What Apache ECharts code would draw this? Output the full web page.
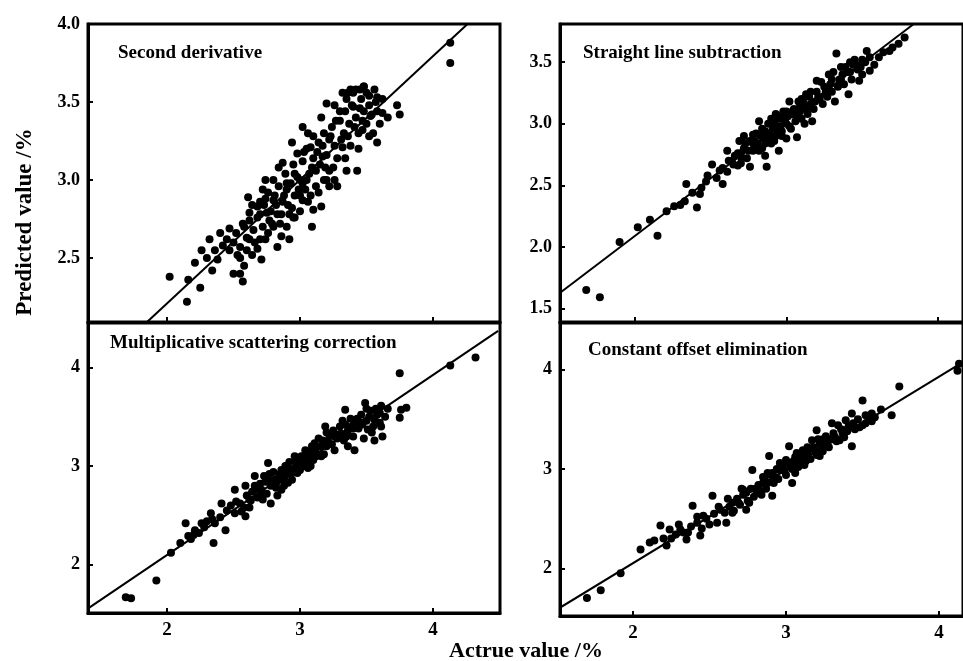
<!DOCTYPE html>
<html>
<head>
<meta charset="utf-8">
<script src="https://cdn.jsdelivr.net/npm/echarts@6/dist/echarts.min.js"></script>
<style>
  html, body { margin: 0; padding: 0; background: #fff; }
  #chart { width: 963px; height: 661px; }
</style>
</head>
<body>
<div id="chart"></div>
<script>
// panel titles
const panelNames = ['Second derivative', 'Straight line subtraction', 'Multiplicative scattering correction', 'Constant offset elimination'];

// tick labels
const ticksTL = [2.5, 3.0, 3.5, 4.0];
const ticksTR = [1.5, 2.0, 2.5, 3.0, 3.5];
const ticksBottom = [2, 3, 4];
const ticksX = [2, 3, 4];

// scatter: [actual, predicted]
const secondDeriv = [
  [2.02,2.38],[2.15,2.22],[2.16,2.36],[2.21,2.47],[2.26,2.55],[2.25,2.31],[2.32,2.62],[2.34,2.42],
  [2.38,2.49],[2.40,2.66],[2.47,2.69],[2.47,2.55],[2.50,2.40],[2.55,2.40],[2.57,2.35],[2.55,2.57],
  [2.60,2.63],[2.57,2.72],[2.61,2.89],[2.62,2.79],[2.71,2.49],[2.68,2.83],[2.72,2.94],[2.75,2.79],
  [2.80,3.00],[2.80,2.87],[2.83,2.57],[2.85,2.72],[2.87,3.11],[2.90,2.94],[2.92,2.62],[2.95,2.76],
  [2.98,3.17],[3.00,3.00],[3.02,3.34],[3.02,2.87],[3.09,2.70],[3.08,3.21],[3.10,3.28],[3.12,3.06],
  [3.10,2.81],[3.16,2.83],[3.17,3.15],[3.20,3.49],[3.22,2.96],[3.22,3.26],[3.25,3.08],[3.30,3.38],
  [3.32,3.21],[3.32,3.56],[3.35,3.06],[3.40,3.47],[3.43,3.06],[3.45,3.58],[3.47,3.32],[3.53,3.41],
  [3.58,3.24],[3.58,3.53],[3.62,3.43],[3.73,3.48],[3.75,3.42],[4.13,3.88],[4.13,3.75],
  [2.45,2.62],[2.52,2.66],[2.58,2.70],[2.62,2.74],[2.65,2.68],[2.68,2.76],[2.70,2.86],[2.72,2.70],
  [2.74,2.88],[2.76,2.92],[2.78,2.80],[2.79,2.72],[2.82,2.84],[2.84,2.96],[2.86,2.78],[2.88,2.90],
  [2.89,3.04],[2.91,2.84],[2.93,2.98],[2.95,3.10],[2.96,2.90],[2.98,3.02],[3.00,2.80],[3.02,3.12],
  [3.04,2.94],[3.05,3.20],[3.07,3.04],[3.10,3.14],[3.12,2.96],[3.14,3.24],[3.15,3.10],[3.18,3.30],
  [3.20,3.16],[3.22,3.06],[3.24,3.34],[3.26,3.22],[3.28,3.14],[3.30,3.44],[3.33,3.30],[3.35,3.52],
  [3.37,3.36],[3.38,3.22],[3.40,3.56],[3.42,3.40],[3.44,3.30],[3.46,3.52],[3.48,3.44],[3.50,3.36],
  [3.50,3.56],[3.52,3.48],[3.55,3.30],[3.56,3.58],[3.58,3.44],[3.60,3.36],[3.62,3.52],[3.66,3.40],
  [2.55,2.50],[2.60,2.55],[2.64,2.52],[2.58,2.45],[2.66,2.60],[2.70,2.62],[2.76,2.66],[2.80,2.70],
  [2.86,2.64],[2.90,2.70],[2.94,2.82],[3.00,2.90],[3.06,2.86],[3.14,2.92],[3.18,3.00],[3.26,3.00],
  [2.42,2.58],[2.36,2.55],[2.30,2.50],[2.64,2.84],[2.74,3.00],[2.84,3.08],[2.94,3.24],[3.06,3.30],
  [3.16,3.40],[3.26,3.48],[3.38,3.58],[3.48,3.60],[3.28,2.96],[3.34,3.14],[3.44,3.20],[3.52,3.28],
  [2.70,2.78],[2.73,2.84],[2.77,2.74],[2.81,2.90],[2.83,2.78],[2.87,2.86],[2.90,2.98],[2.92,2.78],
  [2.96,3.04],[2.99,2.94],[3.03,3.18],[3.05,3.00],[3.09,3.08],[3.13,3.18],[3.17,3.22],[3.19,3.08],
  [3.23,3.28],[3.27,3.38],[3.31,3.26],[3.34,3.44],[3.36,3.28],[3.39,3.48],[3.41,3.34],[3.45,3.46],
  [3.47,3.38],[3.52,3.54],[3.54,3.42],[3.57,3.50],[3.42,3.58],[3.36,3.56],[3.48,3.60],[2.50,2.60],
  [2.53,2.52],[2.62,2.62],[2.68,2.56],[2.74,2.62],[2.96,2.76],[3.02,2.98],[3.20,3.00],[3.08,2.90]
];

const straightLine = [
  [1.68,1.65],[1.77,1.59],[1.90,2.04],[2.02,2.16],[2.10,2.22],[2.15,2.09],[2.21,2.29],[2.26,2.33],
  [2.33,2.37],[2.34,2.51],[2.41,2.32],[2.43,2.43],[2.47,2.53],[2.51,2.67],[2.54,2.56],[2.58,2.51],
  [2.61,2.61],[2.61,2.78],[2.65,2.67],[2.69,2.86],[2.70,2.73],[2.76,2.65],[2.78,2.91],[2.82,3.02],
  [2.82,2.78],[2.87,2.65],[2.89,2.91],[2.93,3.08],[2.95,2.78],[3.00,3.00],[3.02,3.18],[3.07,2.89],
  [3.09,3.10],[3.13,3.24],[3.17,3.02],[3.20,3.35],[3.24,3.16],[3.30,3.26],[3.33,3.57],[3.37,3.40],
  [3.41,3.24],[3.44,3.48],[3.48,3.35],[3.53,3.59],[3.55,3.43],[3.61,3.54],[3.68,3.59],[3.74,3.65],
  [2.64,2.70],[2.68,2.76],[2.72,2.80],[2.74,2.72],[2.76,2.86],[2.78,2.78],[2.80,2.92],[2.81,2.84],
  [2.84,2.96],[2.85,2.88],[2.86,2.74],[2.88,3.00],[2.90,2.84],[2.91,2.96],[2.93,2.90],[2.95,3.04],
  [2.97,2.94],[2.98,3.10],[3.00,2.88],[3.01,3.06],[3.03,2.96],[3.05,3.12],[3.06,3.02],[3.08,3.18],
  [3.10,3.04],[3.12,3.14],[3.14,3.08],[3.15,3.22],[3.18,3.12],[3.20,3.26],[3.22,3.20],[3.25,3.30],
  [3.27,3.22],[3.30,3.36],[3.32,3.18],[3.34,3.30],[3.36,3.46],[3.38,3.32],[3.40,3.42],[3.43,3.36],
  [3.45,3.52],[3.47,3.44],[3.50,3.40],[3.52,3.50],[3.58,3.48],[3.64,3.58],[3.70,3.62],[3.78,3.70],
  [2.56,2.62],[2.62,2.70],[2.66,2.74],[2.70,2.68],[2.72,2.90],[2.78,2.84],[2.84,2.80],[2.86,2.94],
  [2.90,3.04],[2.92,2.86],[2.96,2.98],[3.00,3.10],[3.04,3.08],[3.10,3.20],[3.16,3.16],[3.26,3.24],
  [3.28,3.40],[3.36,3.36],[3.42,3.50],[3.50,3.52],[2.30,2.34],[2.38,2.44],[2.44,2.48],[2.48,2.58],
  [2.70,2.76],[2.73,2.84],[2.75,2.78],[2.79,2.86],[2.83,2.90],[2.87,2.92],[2.89,2.86],[2.92,3.00],
  [2.94,2.94],[2.96,3.06],[2.99,3.02],[3.02,2.98],[3.04,3.10],[3.07,3.06],[3.09,3.14],[3.11,3.18],
  [3.13,3.12],[3.16,3.26],[3.19,3.18],[3.21,3.22],[3.23,3.34],[3.26,3.26],[3.29,3.32],[3.31,3.42],
  [3.35,3.36],[3.39,3.46],[3.42,3.42],[3.46,3.48],[3.49,3.46],[3.55,3.54],[2.80,2.80],[2.86,2.84],
  [2.97,2.90],[3.12,3.00],[2.68,2.66],[2.58,2.64]
];

const msc = [
  [1.69,1.67],[1.73,1.66],[1.92,1.84],[2.03,2.12],[2.10,2.22],[2.16,2.29],[2.14,2.42],[2.21,2.35],
  [2.26,2.42],[2.35,2.22],[2.33,2.52],[2.36,2.42],[2.44,2.35],[2.41,2.62],[2.51,2.52],[2.51,2.76],
  [2.59,2.49],[2.59,2.80],[2.63,2.65],[2.66,2.90],[2.71,2.76],[2.76,3.03],[2.78,2.62],[2.81,2.86],
  [2.86,2.76],[2.89,3.00],[2.91,2.83],[2.96,3.10],[2.98,2.93],[3.04,3.16],[3.06,3.03],[3.11,3.23],
  [3.16,3.10],[3.19,3.40],[3.21,3.26],[3.26,3.16],[3.31,3.33],[3.34,3.57],[3.36,3.20],[3.41,3.44],
  [3.41,3.16],[3.49,3.64],[3.51,3.37],[3.56,3.47],[3.56,3.26],[3.61,3.61],[3.61,3.40],[3.75,3.94],
  [3.76,3.57],[3.80,3.59],[3.75,3.49],[4.13,4.02],[4.32,4.10],
  [2.45,2.55],[2.55,2.62],[2.60,2.70],[2.64,2.74],[2.68,2.68],[2.70,2.82],[2.73,2.90],[2.75,2.72],
  [2.78,2.80],[2.80,2.94],[2.83,2.70],[2.84,2.88],[2.86,2.96],[2.88,2.80],[2.90,2.92],[2.92,3.04],
  [2.94,2.86],[2.96,2.98],[2.98,3.08],[3.00,2.96],[3.02,3.04],[3.04,3.12],[3.06,2.98],[3.08,3.14],
  [3.10,3.06],[3.12,3.18],[3.14,3.28],[3.16,3.20],[3.18,3.12],[3.22,3.32],[3.24,3.22],[3.28,3.28],
  [3.30,3.40],[3.33,3.26],[3.36,3.36],[3.38,3.48],[3.40,3.30],[3.44,3.38],[3.46,3.52],[3.48,3.28],
  [3.50,3.46],[3.53,3.56],[3.54,3.34],[3.58,3.52],[3.60,3.44],[3.62,3.30],[3.64,3.50],[3.66,3.58],
  [2.40,2.48],[2.48,2.60],[2.56,2.54],[2.62,2.58],[2.66,2.80],[2.72,2.66],[2.76,2.86],[2.82,2.78],
  [2.86,2.86],[2.90,3.00],[2.94,2.94],[3.00,3.04],[3.04,3.06],[3.08,3.00],[3.12,3.10],[3.18,3.24],
  [3.20,3.34],[3.26,3.30],[3.34,3.42],[3.40,3.38],[3.46,3.44],[3.50,3.58],[2.20,2.30],[2.30,2.44],
  [2.62,2.66],[2.66,2.76],[2.72,2.72],[2.74,2.84],[2.77,2.92],[2.82,2.82],[2.85,2.92],[2.88,2.88],
  [2.91,2.98],[2.93,2.92],[2.97,3.04],[3.01,3.10],[3.03,3.00],[3.07,3.08],[3.09,3.20],[3.13,3.12],
  [3.17,3.26],[3.20,3.20],[3.25,3.36],[3.29,3.32],[3.32,3.46],[3.35,3.30],[3.39,3.40],[3.43,3.48],
  [3.47,3.42],[3.52,3.50],[3.55,3.40],[3.57,3.58],[3.60,3.54],[2.52,2.64],[2.58,2.58],[2.34,2.46],
  [2.28,2.38],[2.24,2.32],[2.18,2.26]
];

const constOffset = [
  [1.70,1.70],[1.79,1.78],[1.92,1.95],[2.05,2.19],[2.11,2.26],[2.18,2.43],[2.22,2.23],[2.24,2.39],
  [2.31,2.39],[2.35,2.29],[2.39,2.63],[2.42,2.46],[2.44,2.33],[2.46,2.53],[2.52,2.73],[2.55,2.46],
  [2.57,2.59],[2.61,2.46],[2.65,2.66],[2.72,2.79],[2.74,2.59],[2.78,2.99],[2.81,2.76],[2.85,2.86],
  [2.89,3.13],[2.91,2.73],[2.96,2.99],[3.00,3.09],[3.02,3.23],[3.04,2.86],[3.09,3.06],[3.11,3.19],
  [3.17,3.29],[3.20,3.39],[3.22,3.13],[3.26,3.33],[3.30,3.46],[3.35,3.29],[3.39,3.49],[3.43,3.23],
  [3.43,3.56],[3.50,3.69],[3.52,3.46],[3.56,3.56],[3.69,3.54],[3.74,3.83],[4.12,3.99],[4.13,4.06],
  [2.60,2.56],[2.63,2.62],[2.66,2.58],[2.68,2.70],[2.70,2.64],[2.72,2.74],[2.75,2.68],[2.77,2.80],
  [2.79,2.72],[2.82,2.84],[2.83,2.78],[2.86,2.90],[2.87,2.80],[2.90,2.94],[2.92,2.86],[2.94,3.00],
  [2.95,2.90],[2.98,3.02],[3.00,2.94],[3.02,3.06],[3.04,3.00],[3.06,3.12],[3.08,3.02],[3.10,3.10],
  [3.12,3.04],[3.14,3.16],[3.16,3.10],[3.18,3.22],[3.20,3.14],[3.22,3.26],[3.24,3.18],[3.27,3.28],
  [3.28,3.22],[3.31,3.36],[3.33,3.28],[3.36,3.40],[3.38,3.32],[3.41,3.44],[3.45,3.40],[3.47,3.50],
  [3.50,3.44],[3.54,3.50],[3.58,3.52],[3.62,3.60],[2.48,2.50],[2.50,2.44],[2.53,2.55],[2.45,2.40],
  [2.38,2.42],[2.33,2.36],[2.28,2.34],[2.25,2.30],[2.56,2.62],[2.88,2.96],[2.96,3.06],[3.06,2.96],
  [3.14,3.22],[3.24,3.30],[3.30,3.30],[3.40,3.38],
  [2.62,2.70],[2.65,2.56],[2.69,2.66],[2.71,2.80],[2.74,2.76],[2.76,2.66],[2.80,2.80],[2.84,2.74],
  [2.85,2.92],[2.88,2.86],[2.91,2.96],[2.93,2.92],[2.97,3.04],[2.99,2.98],[3.03,3.02],[3.05,3.08],
  [3.07,3.16],[3.11,3.14],[3.13,3.08],[3.15,3.20],[3.19,3.18],[3.21,3.30],[3.23,3.22],[3.26,3.26],
  [3.29,3.30],[3.32,3.32],[3.34,3.44],[3.37,3.36],[3.40,3.40],[3.44,3.46],[3.48,3.42],[3.52,3.54],
  [3.56,3.48],[2.42,2.52],[2.36,2.36],[2.30,2.44],[2.20,2.30],[2.14,2.28]
];

// regression lines
const fitSecond = [[1.85, 2.09], [4.26, 4.0]];
const fitStraight = [[1.51, 1.63], [3.84, 3.81]];
const fitMsc = [[1.41, 1.56], [4.49, 4.37]];
const fitConst = [[1.52, 1.60], [4.15, 4.07]];

const chart = echarts.init(document.getElementById('chart'));
const font = 'Liberation Serif';
const black = '#000';

function xAxisOf(idx, min, max, showLabel) {
  return {
    type: 'value', gridIndex: idx, min: min, max: max,
    splitLine: { show: false },
    axisLine: { show: true, onZero: false, lineStyle: { color: black, width: 3 } },
    axisTick: { inside: true, length: 5, customValues: ticksX, lineStyle: { color: black, width: 2 } },
    axisLabel: {
      show: showLabel, customValues: ticksBottom, margin: 8,
      color: black, fontFamily: font, fontWeight: 'bold', fontSize: 19
    }
  };
}

function yAxisOf(idx, min, max, ticks, digits) {
  return {
    type: 'value', gridIndex: idx, min: min, max: max,
    splitLine: { show: false },
    axisLine: { show: true, onZero: false, lineStyle: { color: black, width: 3 } },
    axisTick: { inside: true, length: 5, customValues: ticks, lineStyle: { color: black, width: 2 } },
    axisLabel: {
      customValues: ticks, margin: 8, showMinLabel: true, showMaxLabel: true,
      formatter: v => v.toFixed(digits),
      color: black, fontFamily: font, fontWeight: 'bold', fontSize: 18
    }
  };
}

function dots(idx, data) {
  return {
    type: 'scatter', xAxisIndex: idx, yAxisIndex: idx, data: data,
    symbolSize: 8, itemStyle: { color: black, opacity: 1 }, silent: true
  };
}

function fit(idx, data) {
  return {
    type: 'line', xAxisIndex: idx, yAxisIndex: idx, data: data,
    showSymbol: false, symbol: 'none', clip: true, silent: true,
    lineStyle: { color: black, width: 2 }
  };
}

function label(text, x, y) {
  return {
    type: 'text', left: x, top: y,
    style: { text: text, fill: black, font: 'bold 19px "Liberation Serif"' }
  };
}

const option = {
  animation: false,
  backgroundColor: '#fff',
  grid: [
    { left: 88, top: 24, width: 412, height: 298, show: true, borderColor: black, borderWidth: 3 },
    { left: 560, top: 24, width: 404, height: 298, show: true, borderColor: black, borderWidth: 3 },
    { left: 88, top: 323, width: 412, height: 290, show: true, borderColor: black, borderWidth: 3 },
    { left: 560, top: 323, width: 404, height: 293, show: true, borderColor: black, borderWidth: 3 }
  ],
  xAxis: [
    xAxisOf(0, 1.406, 4.504, false),
    xAxisOf(1, 1.507, 4.165, false),
    xAxisOf(2, 1.406, 4.504, true),
    xAxisOf(3, 1.524, 4.156, true)
  ],
  yAxis: [
    yAxisOf(0, 2.09, 4.0, ticksTL, 1),
    yAxisOf(1, 1.39, 3.81, ticksTR, 1),
    yAxisOf(2, 1.51, 4.45, ticksBottom, 0),
    yAxisOf(3, 1.52, 4.47, ticksBottom, 0)
  ],
  series: [
    dots(0, secondDeriv), fit(0, fitSecond),
    dots(1, straightLine), fit(1, fitStraight),
    dots(2, msc), fit(2, fitMsc),
    dots(3, constOffset), fit(3, fitConst)
  ],
  graphic: [
    label(panelNames[0], 118, 44),
    label(panelNames[1], 583, 44),
    label(panelNames[2], 110, 334),
    label(panelNames[3], 588, 341),
    {
      type: 'text', x: 25, y: 222, rotation: Math.PI / 2,
      style: { text: 'Predicted value /%', fill: black, align: 'center', verticalAlign: 'middle',
               font: 'bold 23px "Liberation Serif"' }
    },
    {
      type: 'text', x: 526, y: 651,
      style: { text: 'Actrue value /%', fill: black, align: 'center', verticalAlign: 'middle',
               font: 'bold 22px "Liberation Serif"' }
    }
  ]
};

chart.setOption(option);
</script>
</body>
</html>
